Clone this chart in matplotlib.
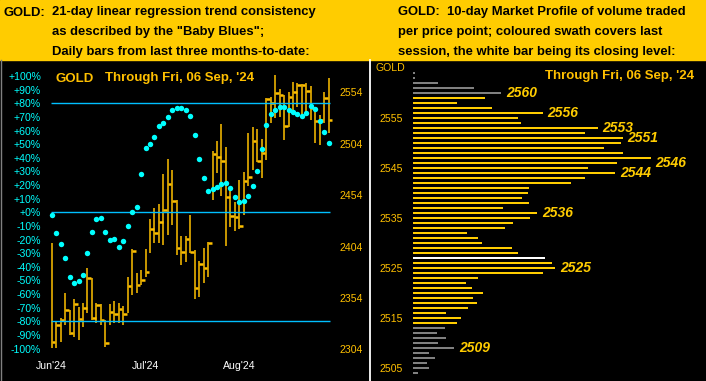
import matplotlib
matplotlib.use('Agg')
import matplotlib.pyplot as plt
import numpy as np

# ---- data: left chart (daily bars + Baby Blues) ----
highs = [2407.7, 2330.8, 2334.4, 2358.8, 2342.2, 2352.9, 2345.1, 2349.0, 2383.1, 2373.4,
         2349.0, 2348.1, 2332.5, 2348.1, 2351.3, 2349.0, 2346.1, 2374.6, 2401.6, 2378.2,
         2381.1, 2401.6, 2430.7, 2441.4, 2445.3, 2474.5, 2489.1, 2478.4, 2449.2, 2414.2,
         2414.2, 2434.6, 2400.6, 2389.9, 2402.5, 2408.7, 2496.9, 2506.6, 2523.2, 2500.8,
         2459.0, 2447.6, 2468.7, 2476.5, 2514.7, 2520.5, 2518.0, 2508.6, 2548.2, 2549.7,
         2570.8, 2556.9, 2551.4, 2554.6, 2563.7, 2562.8, 2562.1, 2562.8, 2560.1, 2540.0,
         2531.9, 2554.6, 2567.9]
lows = [2305.0, 2305.3, 2311.1, 2327.6, 2317.9, 2316.0, 2313.0, 2325.7, 2339.3, 2332.5,
        2329.6, 2327.6, 2306.2, 2327.6, 2329.6, 2329.6, 2327.6, 2339.3, 2356.8, 2358.8,
        2366.5, 2374.6, 2397.6, 2407.4, 2407.4, 2405.5, 2415.2, 2424.9, 2395.7, 2386.0,
        2389.2, 2397.6, 2352.9, 2355.2, 2368.5, 2374.6, 2449.2, 2475.2, 2453.4, 2404.8,
        2423.0, 2419.4, 2421.0, 2434.6, 2462.9, 2478.4, 2486.2, 2470.3, 2488.2, 2524.4,
        2528.7, 2530.3, 2507.6, 2520.5, 2533.6, 2540.0, 2528.7, 2533.6, 2527.1, 2505.0,
        2502.7, 2523.9, 2514.7]
closes = [2311.4, 2327.6, 2333.0, 2342.2, 2320.1, 2348.1, 2333.5, 2344.5, 2373.6, 2334.7,
          2347.1, 2332.5, 2310.4, 2340.0, 2338.0, 2342.9, 2338.3, 2365.6, 2399.9, 2366.8,
          2371.4, 2378.9, 2421.0, 2417.1, 2427.8, 2439.5, 2464.5, 2448.3, 2402.8, 2398.9,
          2411.3, 2398.6, 2363.9, 2386.7, 2382.8, 2407.0, 2493.7, 2491.4, 2487.2, 2452.4,
          2433.7, 2433.0, 2424.2, 2468.0, 2471.3, 2506.6, 2487.0, 2495.2, 2547.5, 2543.3,
          2553.0, 2551.4, 2521.5, 2549.7, 2554.6, 2561.1, 2561.1, 2555.6, 2538.4, 2526.1,
          2527.1, 2548.2, 2527.1]
baby_blues = [-1.8, -15, -23, -33.3, -47.2, -51.6, -50.2, -45.8, -29.6, -14.5,
              -4.9, -3.9, -14.5, -20, -19.6, -25.2, -20.8, -9.8, 0.5, 4.1,
              28.1, 47, 50.1, 55.5, 63.3, 65.7, 70.1, 75, 76.8, 76.8,
              75, 70.6, 57, 39.1, 25.4, 15.9, 17.3, 18.8, 20.8, 21.5,
              18, 11.4, 7.8, 8.5, 12.2, 19.5, 30.5, 46.4, 64.3, 72.3,
              75.3, 77.5, 77.5, 75, 73.5, 72.3, 70.6, 73.2, 78.2, 76,
              67, 59.2, 51.2]
month_idx = [0, 21, 42]
month_labels = ["Jun'24", "Jul'24", "Aug'24"]
pct_ticks = list(range(-100, 101, 10))
price_ticks = [2304, 2354, 2404, 2454, 2504, 2554]

# ---- data: right chart (10-day market profile) ----
mp_prices = list(range(2564, 2503, -1))
mp_volume = [2, 2, 24.7, 61, 88, 72, 43.7, 79, 129.7, 105,
             108, 184.7, 172, 209.7, 207.7, 191, 209.7, 237.7, 203.7, 174.7,
             202, 172, 157.7, 116, 115, 109, 116, 90, 124.3, 117,
             100, 92, 54, 65, 69, 99, 105, 132, 139, 142,
             130, 65, 53, 59, 70, 60, 64, 55, 33, 48,
             44, 32, 24, 33, 25, 41, 16, 22, 14, 16, 5]
session_low, session_high = 2514, 2559
close_level = 2527
mp_labels = [2560, 2556, 2553, 2551, 2546, 2544, 2536, 2525, 2509]
mp_ticks = [2505, 2515, 2525, 2535, 2545, 2555]

YELLOW = '#FFCC00'
GOLDC = '#FFC000'
CYAN = '#00FFFF'
LINEC = '#00BFFF'

W, H = 706, 381
fig = plt.figure(figsize=(W / 100, H / 100), dpi=100, facecolor='black')


def px_axes(x0, y0, x1, y1):
    return fig.add_axes([x0 / W, 1 - y1 / H, (x1 - x0) / W, (y1 - y0) / H])


def fx(x):
    return x / W


def fy(y):
    return 1 - y / H


# header band
fig.patches.append(plt.Rectangle((0, fy(60)), 1, 60 / H, transform=fig.transFigure,
                                 color=YELLOW, zorder=0))
hdr = dict(fontsize=9.4, fontweight='bold', family='Liberation Sans', color='black', va='baseline')
fig.text(fx(4), fy(15.5), 'GOLD:', **hdr)
for k, s in enumerate(['21-day linear regression trend consistency',
                       'as described by the "Baby Blues";',
                       'Daily bars from last three months-to-date:']):
    fig.text(fx(52), fy(15.5 + 20 * k), s, **hdr)
for k, s in enumerate(['GOLD:  10-day Market Profile of volume traded',
                       'per price point; coloured swath covers last',
                       'session, the white bar being its closing level:']):
    fig.text(fx(398), fy(15.5 + 20 * k), s, **hdr)

# borders
fig.add_artist(plt.Line2D([fx(369.5)] * 2, [fy(60), fy(381)], color='white', lw=1.3))
fig.add_artist(plt.Line2D([fx(0.5)] * 2, [fy(60), fy(381)], color='#808080', lw=1.0))

# ---- left chart ----
ax = px_axes(46, 62, 333, 356)
ax2 = ax.twinx()
ax.set_zorder(ax2.get_zorder() + 1)
ax.patch.set_visible(False)
ax2.set_facecolor('black')
n = len(closes)
idx = np.arange(n)
ax.set_xlim(-1.28, 62.96)
ax.set_ylim(-105.4, 110.3)
ax2.set_ylim(2297.5, 2583.5)

ax2.vlines(idx, lows, highs, color=GOLDC, lw=1.1)
ax2.hlines(closes, idx, idx + 0.8, color=GOLDC, lw=1.8)

for lev in (80, 0, -80):
    ax.hlines(lev, -0.2, 62.4, color=LINEC, lw=1.0)
ax.plot(idx, baby_blues, 'o', color=CYAN, ms=3.9, mec='none')

for a in (ax, ax2):
    for sp in a.spines.values():
        sp.set_visible(False)
tkfont = dict(family='Liberation Sans', size=7.6)
ax.set_yticks(pct_ticks)
ax.set_yticklabels([f'{v:+d}%' for v in pct_ticks], fontdict=tkfont)
ax.tick_params(axis='y', length=0, pad=3.6, colors=CYAN)
ax.set_xticks(month_idx)
ax.set_xticklabels(month_labels, fontdict=tkfont)
ax.tick_params(axis='x', length=0, pad=3.5, colors='white')
ax2.set_yticks(price_ticks)
ax2.set_yticklabels([str(v) for v in price_ticks], fontdict=tkfont)
ax2.tick_params(axis='y', length=0, pad=4.5, colors=GOLDC)

ttl = dict(fontsize=9.5, fontweight='bold', family='Liberation Sans', color=GOLDC, va='baseline')
fig.text(fx(55), fy(81.5), 'GOLD', **ttl)
fig.text(fx(105), fy(81.5), "Through Fri, 06 Sep, '24", **ttl)

# ---- right chart ----
axr = px_axes(413, 60, 706, 381)
axr.set_facecolor('black')
for sp in axr.spines.values():
    sp.set_visible(False)
colors = []
for p in mp_prices:
    if p == close_level:
        colors.append('white')
    elif session_low <= p <= session_high:
        colors.append(YELLOW)
    else:
        colors.append('#808080')
axr.barh(mp_prices, mp_volume, height=0.45, color=colors)
axr.set_xlim(0, 293)
axr.set_ylim(2502.46, 2566.66)
axr.set_xticks([])
axr.set_yticks(mp_ticks)
axr.set_yticklabels([str(v) for v in mp_ticks], fontdict=tkfont)
axr.tick_params(axis='y', length=0, pad=7.2, colors=GOLDC)

vol = dict(zip(mp_prices, mp_volume))
for p in mp_labels:
    reach = max(vol.get(p - 1, 0), vol.get(p, 0), vol.get(p + 1, 0))
    axr.text(reach + 5, p, str(p), color=YELLOW, fontsize=10, fontweight='bold',
             fontstyle='italic', family='Liberation Sans', va='center', ha='left')

fig.text(fx(375), fy(68), 'GOLD', color=GOLDC, va='center', ha='left', **tkfont)
fig.text(fx(545), fy(79), "Through Fri, 06 Sep, '24", **ttl)

fig.savefig('out.png', dpi=100, facecolor='black')
